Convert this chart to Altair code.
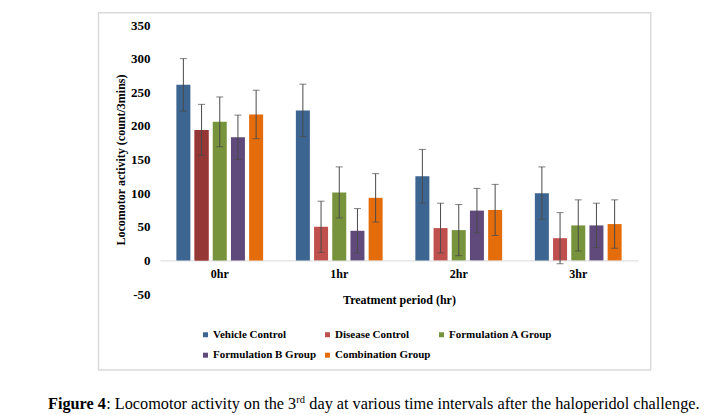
import altair as alt
import pandas as pd

times = ["0hr", "1hr", "2hr", "3hr"]
groups = ["Vehicle Control", "Disease Control", "Formulation A Group",
          "Formulation B Group", "Combination Group"]
colors = ["#3C6591", "#C0504D", "#77933C", "#604A7B", "#E46C0A"]

vehicle = [261, 223, 125, 100]
disease = [194, 50, 48, 33]
form_a = [206, 101, 45, 52]
form_b = [183, 44, 74, 52]
combo = [217, 93, 75, 54]

vehicle_err = [39, 39, 40, 39]
disease_err = [38, 38, 37, 38]
form_a_err = [37, 38, 38, 38]
form_b_err = [33, 33, 33, 33]
combo_err = [36, 36, 38, 36]

y_ticks = [-50, 0, 50, 100, 150, 200, 250, 300, 350]

caption_parts = ["Figure 4", ": Locomotor activity on the 3", "rd",
                 "day at various time intervals after the haloperidol challenge."]

series = [vehicle, disease, form_a, form_b, combo]
errs = [vehicle_err, disease_err, form_a_err, form_b_err, combo_err]
rows = []
for g, vals, es in zip(groups, series, errs):
    for t, v, e in zip(times, vals, es):
        rows.append({"time": t, "group": g, "value": v, "lo": v - e, "hi": v + e})
df = pd.DataFrame(rows)

FONT = "Liberation Serif"
YTITLE = "Locomotor activity (count/3mins)"
yscale = alt.Scale(domain=[-50, 350], nice=False)

base = alt.Chart(df).encode(
    x=alt.X("time:N", sort=times,
            scale=alt.Scale(paddingInner=0, paddingOuter=0),
            axis=alt.Axis(title="Treatment period (hr)", offset=-33.6,
                          domainColor="#d9d9d9", domainWidth=1, ticks=False,
                          labelPadding=8, labelAngle=0, labelFont=FONT,
                          labelFontSize=12, labelFontWeight="bold",
                          labelColor="black", titleFont=FONT, titleFontSize=12,
                          titleFontWeight="bold", titleColor="black",
                          titlePadding=15)),
    xOffset=alt.XOffset("group:N", sort=groups,
                        scale=alt.Scale(paddingInner=0.23, paddingOuter=0.9)),
)

yaxis = alt.Axis(title=YTITLE, values=y_ticks, domain=False, ticks=False,
                 grid=False, labelPadding=10, labelFont=FONT, labelFontSize=13,
                 labelFontWeight="bold", labelColor="black", titleFont=FONT,
                 titleFontSize=12, titleFontWeight="bold", titleColor="black",
                 titlePadding=3, labelExpr="'' + datum.value")

bars = base.mark_bar().encode(
    y=alt.Y("value:Q", scale=yscale, axis=yaxis),
    color=alt.Color("group:N", scale=alt.Scale(domain=groups, range=colors),
                    legend=alt.Legend(title=None, orient="none", legendX=40,
                                      legendY=304, direction="horizontal",
                                      columns=3, symbolType="square",
                                      symbolSize=25, symbolStrokeWidth=0,
                                      labelFont=FONT, labelFontSize=11,
                                      labelFontWeight="bold", labelColor="black",
                                      labelOffset=2, columnPadding=5,
                                      rowPadding=8.7, padding=0)),
)

dark = base.transform_filter(
    (alt.datum.time == "0hr") & (alt.datum.group == "Disease Control")
).mark_bar(color="#953735").encode(
    y=alt.Y("value:Q", scale=yscale, axis=yaxis)
)

err_rule = base.mark_rule(color="#4a4a4a", strokeWidth=1).encode(
    y=alt.Y("lo:Q", scale=yscale, axis=yaxis), y2="hi:Q"
)
cap_hi = base.mark_tick(color="#4a4a4a", size=7, thickness=1).encode(
    y=alt.Y("hi:Q", scale=yscale, axis=yaxis)
)
cap_lo = base.mark_tick(color="#4a4a4a", size=7, thickness=1).encode(
    y=alt.Y("lo:Q", scale=yscale, axis=yaxis)
)

one = pd.DataFrame({"a": [0]})
frame = alt.Chart(one).mark_rect(fillOpacity=0, stroke="#d9d9d9",
                                 strokeWidth=1.5).encode(
    x=alt.value(-61.5), x2=alt.value(490.7), y=alt.value(-12.3), y2=alt.value(345)
)

def cap_text(txt, x, y, size, weight):
    return alt.Chart(one).mark_text(align="left", baseline="alphabetic",
                                    font=FONT, fontSize=size, fontWeight=weight,
                                    color="black").encode(
        x=alt.value(x), y=alt.value(y), text=alt.value(txt))

c1 = cap_text(caption_parts[0], -112, 384, 16.25, "bold")
c2 = cap_text(caption_parts[1], -53.8, 384, 16.25, "normal")
c3 = cap_text(caption_parts[2], 136.2, 378, 10.5, "normal")
c4 = cap_text(caption_parts[3], 149.3, 384, 16.25, "normal")

chart = alt.layer(frame, bars, dark, err_rule, cap_hi, cap_lo, c1, c2, c3, c4).properties(
    width=478, height=269,
    autosize=alt.AutoSizeParams(type="none"),
    padding={"left": 152, "top": 17, "right": 66, "bottom": 121},
).configure_view(stroke=None)

chart.save("out.html", embed_options={"renderer": "svg", "actions": False})
